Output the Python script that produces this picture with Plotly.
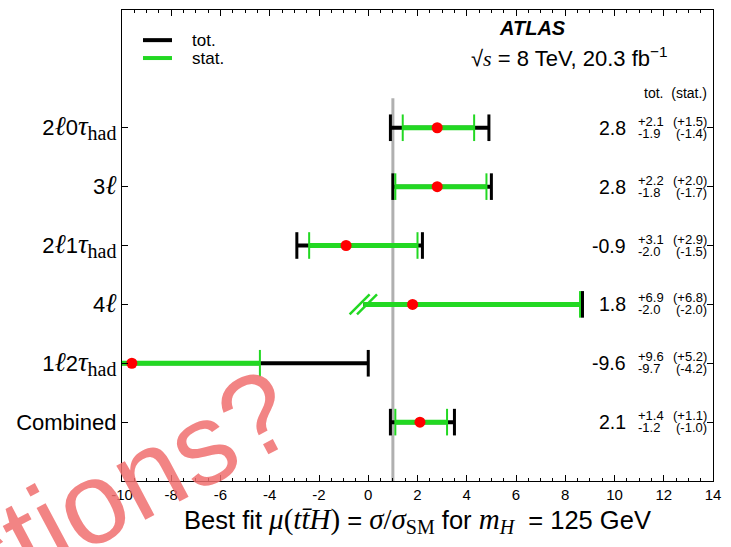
import plotly.graph_objects as go

# ---------------- data ----------------
categories = ["2l0tau_had", "3l", "2l1tau_had", "4l", "1l2tau_had", "Combined"]
mu = [2.8, 2.8, -0.9, 1.8, -9.6, 2.1]
tot_up = [2.1, 2.2, 3.1, 6.9, 9.6, 1.4]
tot_dn = [1.9, 1.8, 2.0, 2.0, 9.7, 1.2]
stat_up = [1.5, 2.0, 2.9, 6.8, 5.2, 1.1]
stat_dn = [1.4, 1.7, 1.5, 2.0, 4.2, 1.0]
lower_bounded = [False, False, False, True, False, False]
sm_value = 1.0
x_tick_vals = list(range(-10, 15, 2))
x_tick_text = [str(v) for v in x_tick_vals]
legend_names = ["tot.", "stat."]

SERIF = "Liberation Serif, DejaVu Serif, serif"
SANS = "Liberation Sans, Arial, sans-serif"


def m(s, italic=True, size=None):
    st = f"font-family:{SERIF}"
    if size:
        st += f";font-size:{size}px"
    t = f"<span style='{st}'>{s}</span>"
    return f"<i>{t}</i>" if italic else t


ell = m("ℓ", size=27)
tau_had = m("τ", size=27) + "<sub>" + m("had", italic=False, size=20) + "</sub>"
cat_labels = [
    "2" + ell + "0" + tau_had,
    "3" + ell,
    "2" + ell + "1" + tau_had,
    "4" + ell,
    "1" + ell + "2" + tau_had,
    "Combined",
]

n = len(categories)
pos = list(range(n - 1, -1, -1))

BLACK = "#000000"
GREEN = "#22d822"
RED = "#ff0000"
GREY = "#b0b0b0"

fig = go.Figure()

# SM reference line
fig.add_trace(go.Scatter(x=[sm_value, sm_value], y=[-1, 5.5], mode="lines",
                         line=dict(color=GREY, width=3), showlegend=False,
                         hoverinfo="skip"))

tx, ty, sx, sy = [], [], [], []
for i in range(n):
    tx += [mu[i] - tot_dn[i], mu[i] + tot_up[i], None]
    ty += [pos[i], pos[i], None]
    sx += [mu[i] - stat_dn[i], mu[i] + stat_up[i], None]
    sy += [pos[i], pos[i], None]

# total uncertainty lines
fig.add_trace(go.Scatter(x=tx, y=ty, mode="lines", line=dict(color=BLACK, width=4),
                         showlegend=False, hoverinfo="skip"))

# total caps
cx, cy = [], []
for i in range(n):
    cx.append(mu[i] + tot_up[i]); cy.append(pos[i])
    if not lower_bounded[i]:
        cx.append(mu[i] - tot_dn[i]); cy.append(pos[i])
fig.add_trace(go.Scatter(x=cx, y=cy, mode="markers",
                         marker=dict(symbol="line-ns", size=19,
                                     line=dict(color=BLACK, width=3)),
                         showlegend=False, hoverinfo="skip"))

# stat lines
fig.add_trace(go.Scatter(x=sx, y=sy, mode="lines", line=dict(color=GREEN, width=5),
                         showlegend=False, hoverinfo="skip"))

# stat caps
gx, gy = [], []
for i in range(n):
    gx.append(mu[i] + stat_up[i]); gy.append(pos[i])
    if not lower_bounded[i]:
        gx.append(mu[i] - stat_dn[i]); gy.append(pos[i])
fig.add_trace(go.Scatter(x=gx, y=gy, mode="markers",
                         marker=dict(symbol="line-ns", size=19,
                                     line=dict(color=GREEN, width=2)),
                         showlegend=False, hoverinfo="skip"))

# bounded lower ends drawn as "//"
bx, by = [], []
for i in range(n):
    if lower_bounded[i]:
        lo = mu[i] - stat_dn[i]
        bx += [lo - 0.15, lo + 0.15]
        by += [pos[i], pos[i]]
fig.add_trace(go.Scatter(x=bx, y=by, mode="markers",
                         marker=dict(symbol="line-ne", size=20,
                                     line=dict(color=GREEN, width=2.5)),
                         showlegend=False, hoverinfo="skip"))

# central values
fig.add_trace(go.Scatter(x=mu, y=pos, mode="markers",
                         marker=dict(symbol="circle", size=11, color=RED),
                         showlegend=False, hoverinfo="skip"))

annotations = []
shapes = []

# legend (drawn as sample lines + labels)
legend_colors = [BLACK, GREEN]
legend_y = [0.936, 0.898]
for name, col, ly in zip(legend_names, legend_colors, legend_y):
    shapes.append(dict(type="line", xref="paper", yref="paper", x0=0.0355, x1=0.0846,
                       y0=ly, y1=ly, line=dict(color=col, width=4)))
    annotations.append(dict(xref="paper", yref="paper", x=0.115, y=ly, text=name,
                            xanchor="left", yanchor="middle", showarrow=False,
                            font=dict(size=17, family=SANS, color="black")))

for i in range(n):
    annotations.append(dict(xref="paper", yref="y", x=0.856, y=pos[i], text=f"{mu[i]:.1f}",
                            xanchor="right", yanchor="middle", showarrow=False,
                            font=dict(size=19.5, family=SANS, color="black")))
    annotations.append(dict(xref="paper", yref="y", x=0.869, y=pos[i], yshift=6.5,
                            text=f"+{tot_up[i]:.1f}", xanchor="left", yanchor="middle",
                            showarrow=False, font=dict(size=13, family=SANS, color="black")))
    annotations.append(dict(xref="paper", yref="y", x=0.869, y=pos[i], yshift=-5.5,
                            text=f"-{tot_dn[i]:.1f}", xanchor="left", yanchor="middle",
                            showarrow=False, font=dict(size=13, family=SANS, color="black")))
    annotations.append(dict(xref="paper", yref="y", x=0.993, y=pos[i], yshift=6.5,
                            text=f"(+{stat_up[i]:.1f})", xanchor="right", yanchor="middle",
                            showarrow=False, font=dict(size=13, family=SANS, color="black")))
    annotations.append(dict(xref="paper", yref="y", x=0.993, y=pos[i], yshift=-5.5,
                            text=f"(-{stat_dn[i]:.1f})", xanchor="right", yanchor="middle",
                            showarrow=False, font=dict(size=13, family=SANS, color="black")))

annotations += [
    dict(xref="paper", yref="paper", x=0.634, y=0.962, text="<b><i>ATLAS</i></b>",
         xanchor="left", yanchor="middle", showarrow=False,
         font=dict(size=20, family=SANS, color="black")),
    dict(xref="paper", yref="paper", x=0.587, y=0.900,
         text="√" + m("s", size=22) + " = 8 TeV, 20.3 fb<sup>−1</sup>",
         xanchor="left", yanchor="middle", showarrow=False,
         font=dict(size=22, family=SANS, color="black")),
    dict(xref="paper", yref="paper", x=0.993, y=0.824, text="tot.  (stat.)",
         xanchor="right", yanchor="middle", showarrow=False,
         font=dict(size=14, family=SANS, color="black")),
    # overlay watermark present in the reference picture
    dict(xref="paper", yref="paper", x=-0.163, y=-0.1206, text="Questions?",
         xanchor="center", yanchor="middle", showarrow=False, textangle=-28,
         font=dict(size=116, family=SANS, color="rgba(240,110,110,0.85)")),
]

MS = 29
xtitle = ("Best fit " + m("μ", size=MS) + m("(", italic=False, size=MS) + m("t", size=MS)
          + m("t\u0304", size=MS) + m("H", size=MS) + m(")", italic=False, size=MS) + " = "
          + m("σ", size=MS) + m("/", italic=False, size=MS) + m("σ", size=MS)
          + "<sub>" + m("SM", italic=False, size=20) + "</sub> for "
          + m("m", size=MS) + "<sub>" + m("H", size=20) + "</sub>  = 125 GeV")

fig.update_layout(
    width=731, height=547,
    margin=dict(l=122, r=18, t=10, b=66),
    paper_bgcolor="white", plot_bgcolor="white",
    font=dict(family=SANS, color="black"),
    showlegend=False,
    shapes=shapes,
    xaxis=dict(range=[-10, 14], tickvals=x_tick_vals, ticktext=x_tick_text,
               ticks="inside", ticklen=6,
               tickwidth=1, tickcolor="black", mirror="ticks", showline=True,
               linecolor="black", linewidth=1.3, showgrid=False, zeroline=False,
               tickfont=dict(size=15, family=SANS),
               minor=dict(dtick=0.5, ticks="inside", ticklen=3, tickcolor="black", showgrid=False),
               title=dict(text=xtitle, font=dict(size=25.5, family=SANS), standoff=7)),
    yaxis=dict(range=[-1, 7], tickvals=pos, ticktext=cat_labels, ticks="inside",
               ticklen=6, tickcolor="black", mirror="ticks", showline=True,
               linecolor="black", linewidth=1.3, showgrid=False, zeroline=False,
               tickfont=dict(size=22, family=SANS)),
    annotations=annotations,
)

fig.write_html("out.html")
